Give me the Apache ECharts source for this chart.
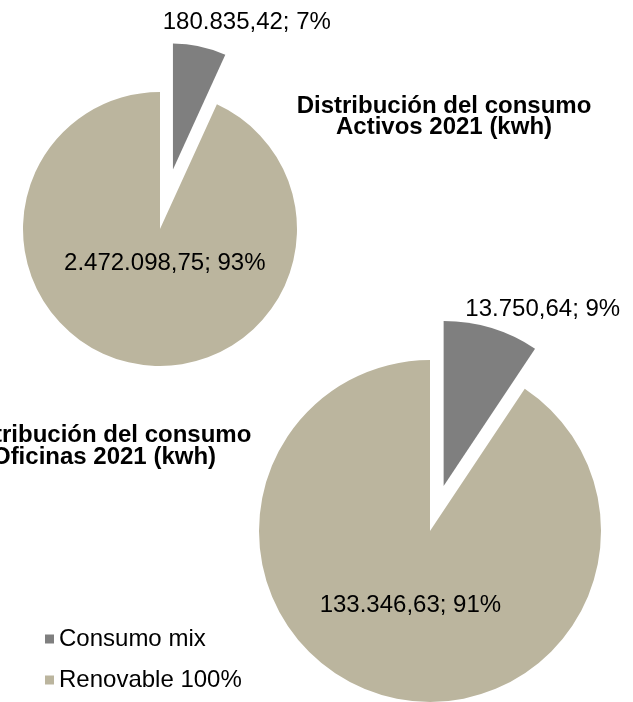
<!DOCTYPE html>
<html>
<head>
<meta charset="utf-8">
<script src="https://cdn.jsdelivr.net/npm/echarts@6/dist/echarts.min.js"></script>
<style>
    html, body { margin: 0; padding: 0; background: #fff; }
    #main { width: 633px; height: 702px; }
</style>
</head>
<body>
<div id="main"></div>
<script>
    // datos
    var categories = ['Consumo mix', 'Renovable 100%'];
    var activosValues = [180835.42, 2472098.75];
    var oficinasValues = [13750.64, 133346.63];
    var titleActivos = 'Distribución del consumo\nActivos 2021 (kwh)';
    var titleOficinas = 'Distribución del consumo\nOficinas 2021 (kwh)';

    var colors = ['#7f7f7f', '#bbb59e'];
    var font = 'Liberation Sans, Arial, sans-serif';

    // 180835.42 -> 180.835,42
    function fmt(v) {
        var parts = v.toFixed(2).split('.');
        var ent = parts[0].replace(/\B(?=(\d{3})+(?!\d))/g, '.');
        return ent + ',' + parts[1];
    }

    function labelText(p) {
        return fmt(p.value) + '; ' + Math.round(p.percent) + '%';
    }

    // una tarta = dos series: la de fondo (renovable) y la porcion separada (mix)
    function pieSeries(values, center, r, rMix, offset, lbl) {
        var base = {
            type: 'pie',
            center: center,
            radius: r,
            avoidLabelOverlap: false,
            selectedMode: false,
            emphasis: { scale: false },
            labelLine: { show: false },
            label: {
                position: 'inside',
                formatter: labelText,
                color: '#000',
                fontFamily: font,
                fontSize: 24
            },
            labelLayout: function (p) {
                return p.dataIndex === 1 ? { dx: lbl.bx, dy: lbl.by } : {};
            },
            data: categories.map(function (name, i) {
                return {
                    name: name,
                    value: values[i],
                    itemStyle: { color: i === 0 ? 'rgba(0,0,0,0)' : colors[1] },
                    label: { show: i === 1 }
                };
            })
        };
        var mix = {
            type: 'pie',
            center: center,
            radius: rMix,
            avoidLabelOverlap: false,
            selectedMode: 'single',
            selectedOffset: offset,
            emphasis: { scale: false },
            labelLine: { show: false, length: 0, length2: 0 },
            label: {
                position: 'outside',
                formatter: labelText,
                color: '#000',
                fontFamily: font,
                fontSize: 24
            },
            labelLayout: function (p) {
                return p.dataIndex === 0 ? { dx: lbl.mx, dy: lbl.my } : {};
            },
            data: categories.map(function (name, i) {
                return {
                    name: name,
                    value: values[i],
                    selected: i === 0,
                    itemStyle: { color: i === 0 ? colors[0] : 'rgba(0,0,0,0)' },
                    label: { show: i === 0 }
                };
            })
        };
        return [base, mix];
    }

    var chart = echarts.init(document.getElementById('main'));

    var series = [].concat(
        pieSeries(activosValues, [160, 229], 137, 126, 61,
            { bx: 20, by: -35, mx: -42, my: -24 }),
        pieSeries(oficinasValues, [430, 531], 171, 165, 47,
            { bx: 6, by: -10, mx: -31, my: -19 })
    );

    chart.setOption({
        animation: false,
        backgroundColor: '#fff',
        title: [{
            text: titleActivos,
            left: 439,
            top: 91,
            textAlign: 'center',
            textStyle: { fontFamily: font, fontSize: 24, fontWeight: 'bold', color: '#000', lineHeight: 21 }
        }, {
            text: titleOficinas,
            left: 99,
            top: 420,
            textAlign: 'center',
            textStyle: { fontFamily: font, fontSize: 24, fontWeight: 'bold', color: '#000', lineHeight: 21.5 }
        }],
        legend: {
            orient: 'vertical',
            left: 40,
            top: 622,
            icon: 'rect',
            itemWidth: 9,
            itemHeight: 9,
            itemGap: 17,
            selectedMode: false,
            textStyle: { fontFamily: font, fontSize: 24, color: '#000' },
            data: [
                { name: categories[0], itemStyle: { color: colors[0] } },
                { name: categories[1], itemStyle: { color: colors[1] } }
            ]
        },
        series: series
    });
</script>
</body>
</html>
